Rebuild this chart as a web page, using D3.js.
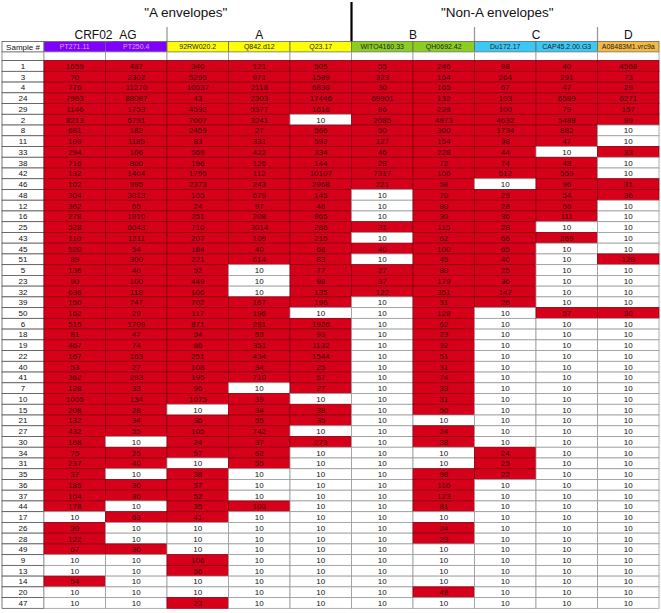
<!DOCTYPE html>
<html><head><meta charset="utf-8">
<script src="https://cdn.jsdelivr.net/npm/d3@7"></script>
<style>
html,body{margin:0;padding:0;background:#fff;}
svg{display:block;font-family:"Liberation Sans","DejaVu Sans",sans-serif;}
</style></head>
<body><svg id="c" width="661" height="613"></svg>
<script>
const samples = [1,3,4,24,29,2,8,11,33,38,42,46,48,12,16,25,43,45,51,5,23,32,39,50,6,18,19,22,40,41,7,10,15,21,27,30,34,31,35,36,37,44,17,26,28,49,9,13,14,20,47];
const envelopes = ["PT271.11","PT250.4","92RW020.2","Q842.d12","Q23.17","WITO4160.33","QH0692.42","Du172.17","CAP45.2.00.G3","A08483M1.vrc9a"];
const subtypes = ["CRF02_AG","CRF02_AG","A","A","A","B","B","C","C","D"];
const subtypeNames = ["CRF02_AG","A","B","C","D"];
const superGroups = ["\"A envelopes\"","\"Non-A envelopes\""];
const subtypeColors = ["#7f00ff","#ffff00","#8cce1e","#3cc8f5","#f5b942"];

const vPT271 = [1659,70,776,7963,1146,8213,681,109,294,716,132,102,304,362,278,528,110,520,89,136,90,636,150,162,515,81,467,167,53,362,128,1005,208,132,432,168,75,237,37,185,104,178,10,30,122,67,10,10,54,10,10];
const vPT250 = [487,2302,11270,88087,1753,6791,182,1185,106,860,1404,995,3013,65,1910,6043,1211,54,300,40,100,118,747,29,1709,47,74,163,27,293,33,134,28,34,55,10,25,40,10,30,30,10,63,10,10,30,10,10,10,10,10];
const v92RW = [340,5295,10537,43,4592,7007,2459,83,569,196,1795,2373,105,24,251,710,207,184,221,52,449,106,702,117,871,54,86,251,108,195,96,1075,10,36,105,24,57,10,38,37,52,35,41,10,10,10,106,56,10,10,23];
const vQ842 = [121,971,2118,2303,5377,3241,27,331,422,126,112,243,679,97,208,3014,109,40,614,10,10,10,167,196,291,53,351,434,34,710,10,39,34,55,742,37,62,55,10,10,10,103,10,10,10,10,10,10,10,10,10];
const vQ23 = [505,1589,6830,17446,1616,10,566,592,334,144,10107,2968,145,48,865,286,215,68,83,77,98,135,196,10,1926,93,1132,1544,25,57,27,10,38,35,10,273,10,10,10,10,10,10,10,10,10,10,10,10,10,10,10];
const vWITO = [55,323,30,69901,96,2085,50,127,46,28,7317,221,10,10,10,31,10,40,10,27,37,122,10,10,10,10,10,10,10,10,10,10,10,10,10,10,10,10,10,10,10,10,10,10,10,10,10,10,10,10,10];
const vQH = [246,164,165,132,228,4973,300,154,228,72,106,58,70,80,30,115,62,100,45,80,179,351,31,128,62,23,32,51,31,74,33,31,50,10,24,28,10,10,98,116,123,81,10,24,23,10,10,10,10,49,10];
const vDu = [98,264,67,103,100,4632,1734,98,44,74,512,10,29,28,36,28,66,65,40,25,36,147,26,10,10,10,10,10,10,10,10,10,10,10,10,10,24,25,22,10,10,10,10,10,10,10,10,10,10,10,10];
const vCAP = [40,291,47,6589,79,5488,882,47,10,48,559,96,54,66,111,10,269,10,10,10,10,10,10,57,10,10,10,10,10,10,10,10,10,10,10,10,10,10,10,10,10,10,10,10,10,10,10,10,10,10,10];
const vA08 = [4568,73,29,6271,157,99,10,10,33,10,10,31,36,10,10,10,10,10,128,10,10,10,10,30,10,10,10,10,10,10,10,10,10,10,10,10,10,10,10,10,10,10,10,10,10,10,10,10,10,10,10];
const series = [vPT271,vPT250,v92RW,vQ842,vQ23,vWITO,vQH,vDu,vCAP,vA08];

const svg = d3.select("#c");
const tableLeft = 2, sampleW = 42, tableRight = 659;
const headTop = 41.5, headH = 10.5, blankH = 8.6, rowH = 10.74;
const dataTop = headTop + headH + blankH;

const x = d3.scaleBand().domain(d3.range(envelopes.length)).range([tableLeft+sampleW, tableRight]).padding(0);
const y = d3.scaleBand().domain(d3.range(samples.length)).range([dataTop, dataTop + samples.length*rowH]).padding(0);
const fill = d3.scaleThreshold().domain([10.5]).range(["#ffffff","#d6001a"]);
const colorOf = d3.scaleOrdinal().domain(subtypeNames).range(subtypeColors);

// super group titles
const superX = [x(0) + 5*x.bandwidth()/2 - 12, x(5) + 5*x.bandwidth()/2 - 8];
svg.selectAll("text.super").data(superGroups).join("text")
  .attr("x",(d,i)=>superX[i]).attr("y",16.5).attr("text-anchor","middle")
  .attr("font-size",13.5).attr("fill","#111").text(d=>d);
svg.append("line").attr("x1",x(5)).attr("x2",x(5)).attr("y1",2).attr("y2",headTop+1)
  .attr("stroke","#000").attr("stroke-width",2.2);

// subtype labels
const subSpans = subtypeNames.map(n=>{
  const idx = d3.range(subtypes.length).filter(i=>subtypes[i]===n);
  return {name:n, x0:x(idx[0]), x1:x(idx[idx.length-1])+x.bandwidth()};
});
svg.selectAll("text.sub").data(subSpans).join("text")
  .attr("x",d=>(d.x0+d.x1)/2).attr("y",39).attr("text-anchor","middle")
  .attr("font-size",12).attr("fill","#111").text(d=>d.name);
svg.selectAll("line.sep").data(subSpans.filter(d=>d.name!=="B"&&d.name!=="CRF02_AG")).join("line")
  .attr("x1",d=>d.x0).attr("x2",d=>d.x0).attr("y1",27).attr("y2",headTop)
  .attr("stroke","#999").attr("stroke-width",1.3);

// header row
svg.append("rect").attr("x",tableLeft).attr("y",headTop).attr("width",sampleW).attr("height",headH)
  .attr("fill","#fff").attr("stroke","#555").attr("stroke-width",0.8);
svg.append("text").attr("x",tableLeft+sampleW/2).attr("y",headTop+headH/2+3).attr("text-anchor","middle")
  .attr("font-size",8).attr("fill","#111").text("Sample #");
const hdr = svg.selectAll("g.hdr").data(envelopes).join("g");
hdr.append("rect").attr("x",(d,i)=>x(i)).attr("y",headTop).attr("width",x.bandwidth()).attr("height",headH)
  .attr("fill",(d,i)=>colorOf(subtypes[i])).attr("stroke","#666").attr("stroke-width",0.8);
hdr.append("text").attr("x",(d,i)=>x(i)+x.bandwidth()/2).attr("y",headTop+headH/2+2.6).attr("text-anchor","middle")
  .attr("font-size",7).attr("fill",(d,i)=>subtypes[i]==="CRF02_AG"?"#d7a8ff":"#222").text(d=>d);

// blank row
svg.append("rect").attr("x",tableLeft).attr("y",headTop+headH).attr("width",sampleW).attr("height",blankH)
  .attr("fill","#fff").attr("stroke","#777").attr("stroke-width",0.8);
svg.selectAll("rect.blank").data(envelopes).join("rect")
  .attr("x",(d,i)=>x(i)).attr("y",headTop+headH).attr("width",x.bandwidth()).attr("height",blankH)
  .attr("fill","#fff").attr("stroke","#999").attr("stroke-width",0.8);

// sample column
svg.selectAll("rect.samp").data(samples).join("rect")
  .attr("x",tableLeft).attr("y",(d,i)=>y(i)).attr("width",sampleW).attr("height",y.bandwidth())
  .attr("fill","#fff").attr("stroke","#555").attr("stroke-width",0.8);
svg.selectAll("text.samp").data(samples).join("text")
  .attr("x",tableLeft+sampleW/2).attr("y",(d,i)=>y(i)+y.bandwidth()/2+3).attr("text-anchor","middle")
  .attr("font-size",8).attr("fill","#111").text(d=>d);

// data cells
const cells = [];
series.forEach((col,ci)=>col.forEach((v,ri)=>cells.push({ci,ri,v})));
svg.selectAll("rect.cell").data(cells).join("rect")
  .attr("x",d=>x(d.ci)).attr("y",d=>y(d.ri)).attr("width",x.bandwidth()).attr("height",y.bandwidth())
  .attr("fill",d=>fill(d.v)).attr("stroke",d=>d.v>10?"#8a0010":"#9a9a9a").attr("stroke-width",0.8);
svg.selectAll("text.cell").data(cells).join("text")
  .attr("x",d=>x(d.ci)+x.bandwidth()/2).attr("y",d=>y(d.ri)+y.bandwidth()/2+3)
  .attr("text-anchor","middle").attr("font-size",8)
  .attr("fill",d=>d.v>10?"#3a0008":"#111").text(d=>d.v);
</script></body></html>
